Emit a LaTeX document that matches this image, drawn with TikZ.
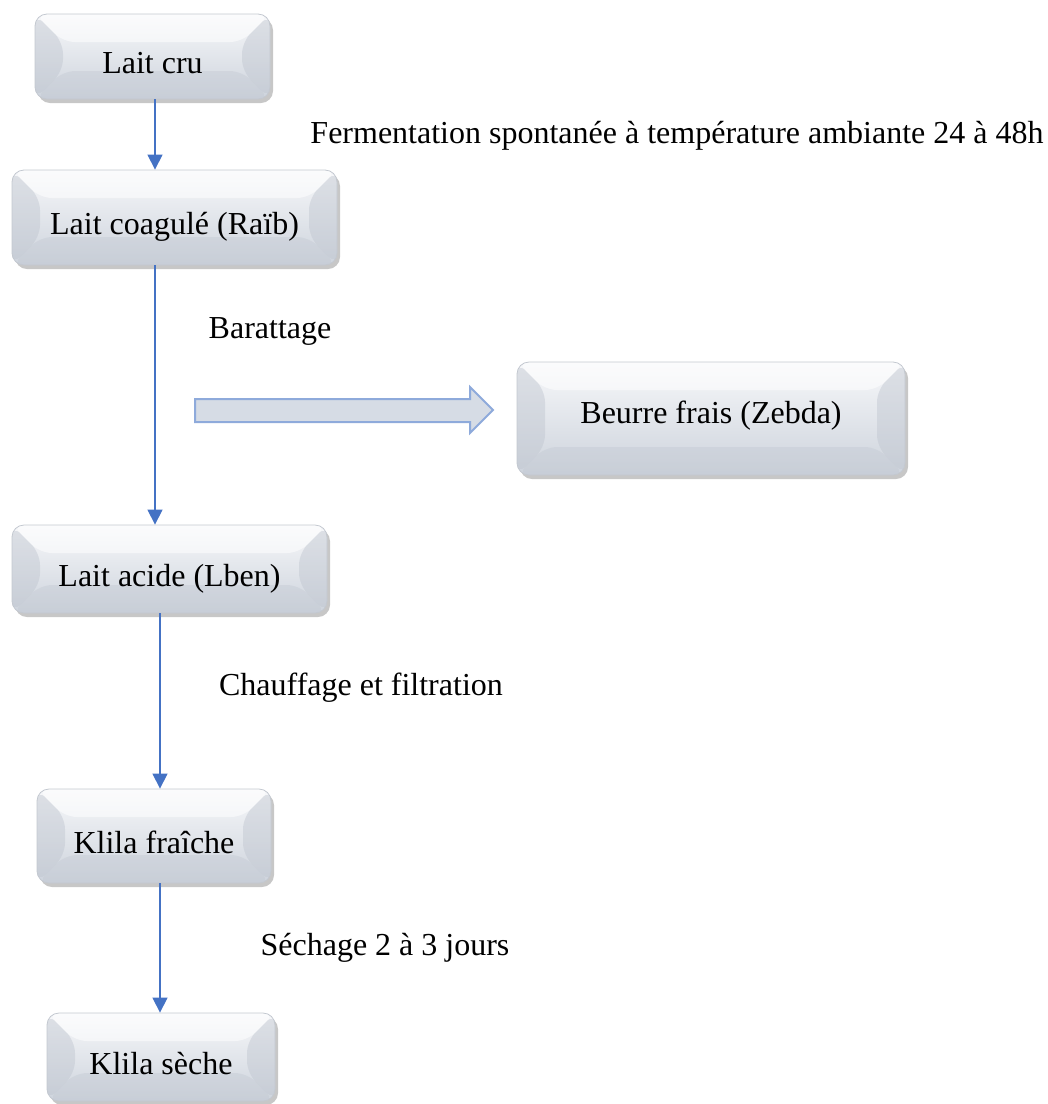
\documentclass[tikz,border=0pt]{standalone}
\usepackage{fontspec}
\setmainfont{Liberation Serif}
\usetikzlibrary{shadows,arrows.meta,calc}

\definecolor{boxtop}{HTML}{F7F8FA}
\definecolor{boxbot}{HTML}{CDD3DC}
\definecolor{boxedge}{HTML}{C3C8D0}
\definecolor{sideshade}{HTML}{BFC5CF}
\definecolor{flowblue}{HTML}{4472C4}
\definecolor{blockfill}{HTML}{D6DCE5}
\definecolor{blockedge}{HTML}{8EAADB}

\tikzset{
  stepbox/.style={
    draw=boxedge, line width=0.8pt, rounded corners=12pt,
    top color=boxtop, bottom color=boxbot,
    drop shadow={shadow xshift=3pt, shadow yshift=-4pt, fill=black, opacity=0.22},
    font=\fontsize{32}{38}\selectfont, text=black, inner sep=0pt,
    % text sits a little below the middle of the box
    text height=38pt, text depth=4pt,
    path picture={
      % bevel: light top band, darker side and bottom facets
      \fill[white, opacity=0.55]
        (path picture bounding box.north west) -- (path picture bounding box.north east)
        -- ($(path picture bounding box.north east)+(-28,28)$)
        -- ($(path picture bounding box.north west)+(28,28)$) -- cycle;
      \fill[sideshade, opacity=0.45]
        (path picture bounding box.north west) -- ($(path picture bounding box.north west)+(28,28)$)
        -- ($(path picture bounding box.south west)+(28,-28)$)
        -- (path picture bounding box.south west) -- cycle;
      \fill[sideshade, opacity=0.45]
        (path picture bounding box.north east) -- ($(path picture bounding box.north east)+(-28,28)$)
        -- ($(path picture bounding box.south east)+(-28,-28)$)
        -- (path picture bounding box.south east) -- cycle;
      \fill[sideshade, opacity=0.35]
        (path picture bounding box.south west) -- ($(path picture bounding box.south west)+(28,-28)$)
        -- ($(path picture bounding box.south east)+(-28,-28)$)
        -- (path picture bounding box.south east) -- cycle;
    }
  },
  flow/.style={draw=flowblue, line width=1.2pt, -{Triangle[width=15pt,length=15pt]}},
  label/.style={font=\fontsize{32}{38}\selectfont, text=black, inner sep=0pt, anchor=base},
  blockarrow/.style={draw=blockedge, fill=blockfill, line width=2pt, line join=miter}
}

\begin{document}
\begin{tikzpicture}[x=1pt,y=-1pt]
  \useasboundingbox (0,0) rectangle (1048,1104);

  % process steps
  \node[stepbox, minimum width=235pt, minimum height=85pt]  (cru)     at (152.5,56.5) {Lait cru};
  \node[stepbox, minimum width=325pt, minimum height=95pt]  (coag)    at (174.5,217.5) {Lait coagulé (Raïb)};
  \node[stepbox, minimum width=388pt, minimum height=113pt,
        text height=24pt, text depth=15pt]                  (beurre)  at (711,418.5) {Beurre frais (Zebda)};
  \node[stepbox, minimum width=315pt, minimum height=88pt]  (acide)   at (169.5,569) {Lait acide (Lben)};
  \node[stepbox, minimum width=234pt, minimum height=94pt]  (fraiche) at (154,836) {Klila fraîche};
  \node[stepbox, minimum width=228pt, minimum height=88pt]  (seche)   at (161,1057) {Klila sèche};

  % operation labels
  \node[label] (fermLbl) at (677,143) {Fermentation spontanée à température ambiante 24 à 48h};
  \node[label] (barLbl)  at (270,338) {Barattage};
  \node[label] (chLbl)   at (361,695) {Chauffage et filtration};
  \node[label] (secLbl)  at (385,955) {Séchage 2 à 3 jours};

  % vertical flow lines
  \coordinate (colA) at (155,0);
  \coordinate (colB) at (160,0);
  \draw[flow] (cru.south -| colA) -- (coag.north -| colA);
  \draw[flow] (coag.south -| colA) -- (acide.north -| colA);
  \draw[flow] (acide.south -| colB) -- (fraiche.north -| colB);
  \draw[flow] (fraiche.south -| colB) -- (seche.north -| colB);

  % side output of the churning step
  \draw[blockarrow] (195,399) -- (470,399) -- (470,387) -- (493,410)
    -- (470,433) -- (470,422) -- (195,422) -- cycle;
\end{tikzpicture}
\end{document}
